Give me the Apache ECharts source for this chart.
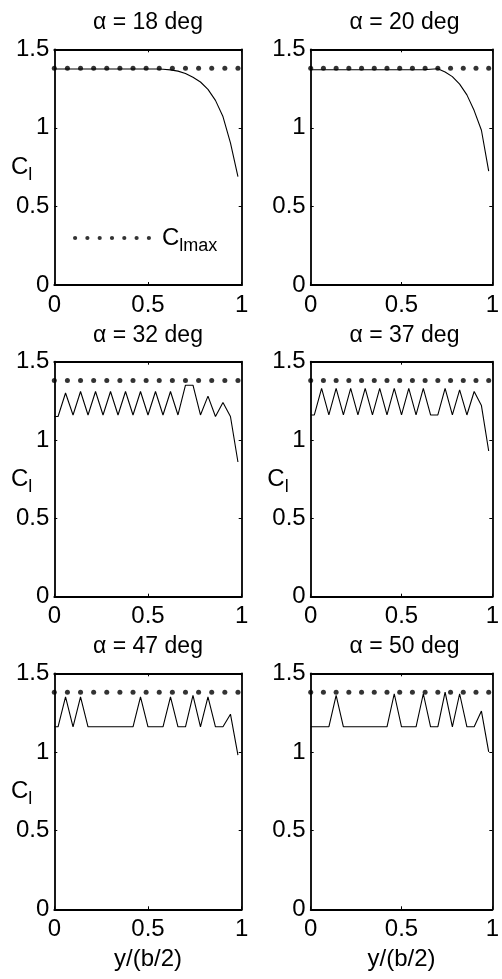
<!DOCTYPE html>
<html><head><meta charset="utf-8">
<script src="https://cdn.jsdelivr.net/npm/echarts@6/dist/echarts.min.js"></script>
<style>html,body{margin:0;padding:0;background:#fff}#c{width:502px;height:979px}</style>
</head><body><div id="c"></div>
<script>
// ---- data ----
const stationX = [0, 0.02, 0.06, 0.10, 0.14, 0.18, 0.22, 0.26, 0.30, 0.34, 0.38, 0.42, 0.46,
  0.50, 0.54, 0.58, 0.62, 0.66, 0.70, 0.74, 0.78, 0.82, 0.86, 0.90, 0.94, 0.98];
const clmaxX = [0, 0.07, 0.14, 0.21, 0.28, 0.35, 0.42, 0.49, 0.56, 0.63, 0.70, 0.77, 0.84, 0.91, 0.98];
const clmaxValue = 1.38;
const panelTitles = ['α = 18 deg', 'α = 20 deg', 'α = 32 deg', 'α = 37 deg', 'α = 47 deg', 'α = 50 deg'];
const cl18 = [1.375, 1.375, 1.375, 1.375, 1.375, 1.375, 1.375, 1.375, 1.375, 1.375, 1.375, 1.375, 1.375,
  1.375, 1.375, 1.373, 1.369, 1.361, 1.346, 1.322, 1.292, 1.245, 1.175, 1.072, 0.905, 0.69];
const cl20 = [1.37, 1.37, 1.37, 1.37, 1.37, 1.37, 1.37, 1.37, 1.37, 1.37, 1.37, 1.37, 1.37,
  1.37, 1.37, 1.37, 1.37, 1.373, 1.376, 1.356, 1.326, 1.278, 1.21, 1.11, 0.985, 0.725];
const cl32 = [1.15, 1.15, 1.30, 1.16, 1.31, 1.16, 1.31, 1.16, 1.31, 1.16, 1.31, 1.16, 1.31,
  1.16, 1.31, 1.16, 1.31, 1.16, 1.35, 1.35, 1.16, 1.28, 1.15, 1.24, 1.15, 0.86];
const cl37 = [1.16, 1.16, 1.33, 1.16, 1.33, 1.16, 1.33, 1.16, 1.33, 1.16, 1.33, 1.16, 1.33,
  1.16, 1.33, 1.16, 1.33, 1.16, 1.16, 1.33, 1.16, 1.32, 1.16, 1.31, 1.22, 0.93];
const cl47 = [1.16, 1.16, 1.35, 1.16, 1.35, 1.16, 1.16, 1.16, 1.16, 1.16, 1.16, 1.16, 1.35,
  1.16, 1.16, 1.16, 1.35, 1.16, 1.16, 1.36, 1.16, 1.35, 1.16, 1.16, 1.24, 0.98];
const cl50 = [1.16, 1.16, 1.16, 1.16, 1.36, 1.16, 1.16, 1.16, 1.16, 1.16, 1.16, 1.16, 1.37,
  1.16, 1.16, 1.16, 1.37, 1.16, 1.16, 1.38, 1.16, 1.37, 1.16, 1.16, 1.26, 1.00];
const panelValues = [cl18, cl20, cl32, cl37, cl47, cl50];
const showYName = [true, false, true, true, true, false];
const showXName = [false, false, false, false, true, true];
const xMin = 0, xMax = 1, xInterval = 0.5;
const yMin = 0, yMax = 1.5, yInterval = 0.5;

// ---- layout ----
const FF = '"Liberation Sans", Arial, Helvetica, sans-serif';
const colLeft = [54.3, 310.7], colWidth = [187.4, 187.6];
const rowTop = [49.3, 361.7, 673.3], rowHeight = [235.7, 235, 236];
const titleTop = [11, 324, 635];

const grids = [], xAxes = [], yAxes = [], series = [], titles = [];
const tickLabelStyle = { color: '#000', fontSize: 24, fontFamily: FF };
const lineStyle = { color: '#000', width: 1.8 };

function xAxisBase(i, pos, primary) {
  return {
    type: 'value', gridIndex: i, position: pos, min: xMin, max: xMax, interval: xInterval,
    axisLine: { show: true, onZero: false, lineStyle },
    axisTick: { show: true, inside: true, length: 3, lineStyle: { color: '#000', width: 1 } },
    axisLabel: { show: primary, margin: 8, ...tickLabelStyle },
    splitLine: { show: false }
  };
}
function yAxisBase(i, pos, primary) {
  return {
    type: 'value', gridIndex: i, position: pos, min: yMin, max: yMax, interval: yInterval,
    axisLine: { show: true, onZero: false, lineStyle },
    axisTick: { show: true, inside: true, length: 3, lineStyle: { color: '#000', width: 1 } },
    axisLabel: { show: primary, margin: 5, ...tickLabelStyle },
    splitLine: { show: false }
  };
}

for (let i = 0; i < 6; i++) {
  const r = Math.floor(i / 2), c = i % 2;
  grids.push({ left: colLeft[c], top: rowTop[r], width: colWidth[c], height: rowHeight[r], containLabel: false });
  titles.push({
    text: panelTitles[i], left: colLeft[c] + colWidth[c] / 2, top: titleTop[r], textAlign: 'center', padding: 0,
    textStyle: { color: '#000', fontSize: 23, fontWeight: 'normal', fontFamily: FF }
  });
  const xa = xAxisBase(i, 'bottom', true);
  if (showXName[i]) {
    xa.name = 'y/(b/2)'; xa.nameLocation = 'middle'; xa.nameGap = 38;
    xa.nameTextStyle = { color: '#000', fontSize: 24, fontFamily: FF };
  }
  xAxes.push(xa);
  const ya = yAxisBase(i, 'left', true);
  if (showYName[i]) {
    ya.name = '{c|C}{s|l}'; ya.nameLocation = 'middle'; ya.nameRotate = 0; ya.nameGap = 22;
    ya.nameMoveOverlap = false;
    ya.nameTextStyle = {
      color: '#000', fontFamily: FF,
      rich: {
        c: { fontSize: 24, lineHeight: 24, fontFamily: FF, color: '#000' },
        s: { fontSize: 18, lineHeight: 18, padding: [16, 0, 0, 0], fontFamily: FF, color: '#000' }
      }
    };
  }
  yAxes.push(ya);
}
for (let i = 0; i < 6; i++) {
  xAxes.push(xAxisBase(i, 'top', false));
  yAxes.push(yAxisBase(i, 'right', false));
}
for (let i = 0; i < 6; i++) {
  series.push({
    type: 'scatter', name: 'Clmax', xAxisIndex: i, yAxisIndex: i, symbol: 'circle', symbolSize: 5,
    itemStyle: { color: '#000' }, silent: true,
    data: clmaxX.map(x => [x, clmaxValue])
  });
  series.push({
    type: 'line', name: 'Cl', xAxisIndex: i, yAxisIndex: i, showSymbol: false, symbol: 'none',
    lineStyle: { color: '#000', width: 1.1 }, silent: true,
    data: stationX.map((x, k) => [x, panelValues[i][k]])
  });
}

// legend icon: row of seven dots
const r = 2.1, step = 12.3;
let dots = '';
for (let k = 0; k < 7; k++) {
  const cx = r + k * step;
  dots += `M${cx - r} ${r}A${r} ${r} 0 1 0 ${cx + r} ${r}A${r} ${r} 0 1 0 ${cx - r} ${r}Z`;
}

const chart = echarts.init(document.getElementById('c'), null, { renderer: 'canvas' });
chart.setOption({
  animation: false,
  backgroundColor: '#fff',
  title: titles,
  grid: grids,
  xAxis: xAxes,
  yAxis: yAxes,
  legend: {
    data: [{ name: 'Clmax', icon: 'path://' + dots }],
    left: 73, top: 221, padding: 0, itemWidth: 2 * r + 6 * step, itemHeight: 2 * r,
    selectedMode: false, orient: 'horizontal',
    formatter: () => '{c|C}{s|lmax}',
    textStyle: {
      color: '#000', fontFamily: FF,
      rich: {
        c: { fontSize: 24, lineHeight: 24, fontFamily: FF, color: '#000', padding: [0, 0, 0, 6] },
        s: { fontSize: 18, lineHeight: 18, padding: [16, 0, 0, 0], fontFamily: FF, color: '#000' }
      }
    }
  },
  series
});
</script></body></html>
